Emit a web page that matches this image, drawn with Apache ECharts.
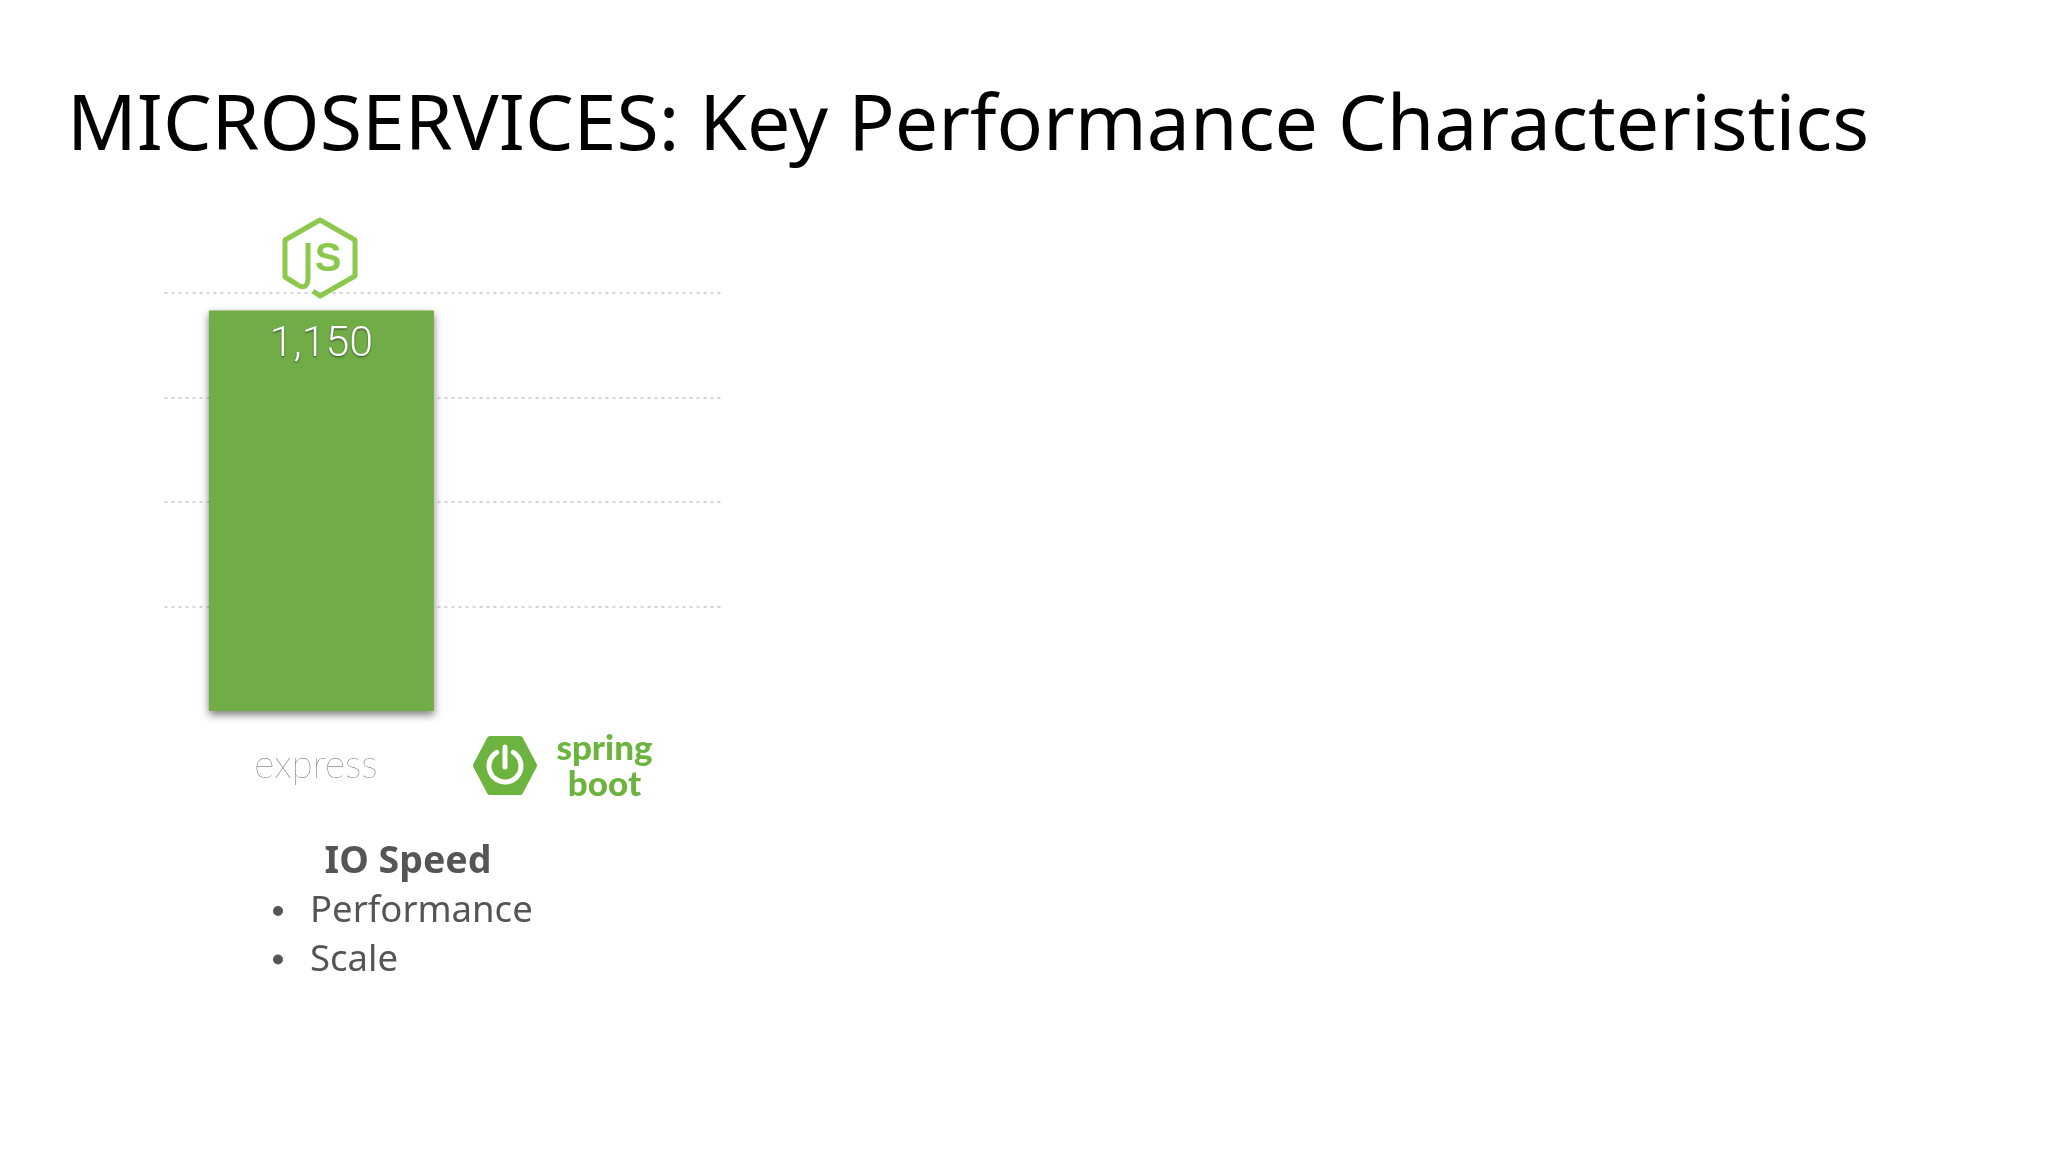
<!DOCTYPE html>
<html><head><meta charset="utf-8">
<style>html,body{margin:0;padding:0;background:#fff}#c{width:2048px;height:1152px}</style>
<script src="https://cdn.jsdelivr.net/npm/echarts@6/dist/echarts.min.js"></script>
</head><body><div id="c"></div>
<script>
const titleText = 'MICROSERVICES: Key Performance Characteristics';
const categories = ['express', 'spring boot'];
const ioSpeed = [1150, null];
const reserved = [null, null];
const yMax = 1200;
const yStep = 300;
const heading = 'IO Speed';
const bullets = ['Performance', 'Scale'];

const green = '#70AD47', nodeGreen = '#8CC84B', springGreen = '#6DB33F', grey = '#555555';
const chart = echarts.init(document.getElementById('c'), null, {renderer: 'canvas'});
chart.setOption({
  animation: false,
  backgroundColor: '#fff',
  title: {text: titleText, left: 62, top: 85, textStyle: {fontFamily: 'Noto Sans', fontSize: 77, fontWeight: 400, color: '#000'}},
  grid: {left: 164.5, top: 293, width: 560, height: 418, containLabel: false},
  xAxis: {
    type: 'category', data: categories,
    axisLine: {show: false}, axisTick: {show: false},
    axisLabel: {
      margin: 20,
      formatter: v => v === 'express' ? '{e|express}' : '{s|spring}\n{s|boot}',
      rich: {
        e: {fontFamily: 'Lato', fontWeight: 100, fontSize: 39, color: '#555555', padding: [28, 0, 0, 23], lineHeight: 40},
        s: {fontFamily: 'Lato', fontWeight: 900, fontSize: 35, color: springGreen, padding: [0, 0, 0, 40], lineHeight: 36}
      }
    }
  },
  yAxis: {
    type: 'value', min: 0, max: yMax, interval: yStep,
    axisLine: {show: false}, axisTick: {show: false}, axisLabel: {show: false},
    splitLine: {show: true, showMinLine: false, lineStyle: {type: [3, 4], color: '#d4d4d4', width: 2}}
  },
  series: [
    {name: 'reserved', type: 'bar', data: reserved, barWidth: 225, barGap: '-85%', silent: true},
    {name: 'IO Speed', type: 'bar', data: ioSpeed, barWidth: 225,
      itemStyle: {color: green, shadowBlur: 8, shadowOffsetY: 4, shadowColor: 'rgba(0,0,0,0.5)'},
      label: {show: true, position: 'insideTop', distance: 13,
        formatter: p => p.value.toLocaleString('en-US'),
        fontFamily: 'Roboto', fontWeight: 300, fontSize: 43, color: '#fff',
        textShadowColor: 'rgba(0,0,0,0.6)', textShadowBlur: 2, textShadowOffsetY: 1}}
  ],
  graphic: [
    {type: 'polyline', z: 10, shape: {points: [[313, 291], [320, 296], [355, 276], [355, 240], [320, 220], [285, 240], [285, 277], [298, 285]]},
      style: {fill: 'none', stroke: nodeGreen, lineWidth: 5, lineJoin: 'round'}},
    {type: 'bezierCurve', z: 10, shape: {x1: 298, y1: 285, cpx1: 304, cpy1: 289, cpx2: 308, cpy2: 286, x2: 308, y2: 278},
      style: {fill: 'none', stroke: nodeGreen, lineWidth: 5}},
    {type: 'line', z: 10, shape: {x1: 308, y1: 278, x2: 308, y2: 243}, style: {stroke: nodeGreen, lineWidth: 5}},
    {type: 'text', z: 10, x: 328, y: 260, style: {text: 'S', fontFamily: 'Liberation Sans', fontWeight: 700, fontSize: 40, fill: nodeGreen, align: 'center', verticalAlign: 'middle'}},
    {type: 'polygon', z: 10, shape: {points: [[476, 765.5], [490, 739], [520, 739], [534, 765.5], [520, 792], [490, 792]]},
      style: {fill: springGreen, stroke: springGreen, lineWidth: 6, lineJoin: 'round'}},
    {type: 'arc', z: 11, shape: {cx: 505, cy: 766, r: 16, startAngle: -Math.PI / 2 + 0.55, endAngle: -Math.PI / 2 - 0.55 + 2 * Math.PI},
      style: {fill: 'none', stroke: '#fff', lineWidth: 5, lineCap: 'round'}},
    {type: 'line', z: 11, shape: {x1: 505, y1: 747, x2: 505, y2: 767}, style: {stroke: '#fff', lineWidth: 5, lineCap: 'round'}},
    {type: 'text', z: 10, x: 408, y: 862, style: {text: heading, fontFamily: 'Noto Sans', fontWeight: 700, fontSize: 37.5, fill: grey, align: 'center', verticalAlign: 'middle'}},
    ...bullets.flatMap((b, i) => [
      {type: 'circle', z: 10, shape: {cx: 278, cy: 911 + i * 48.5, r: 5}, style: {fill: grey}},
      {type: 'text', z: 10, x: 310, y: 912 + i * 48.5, style: {text: b, fontFamily: 'Noto Sans', fontWeight: 400, fontSize: 36.5, fill: grey, align: 'left', verticalAlign: 'middle'}}
    ])
  ]
});
</script></body></html>
